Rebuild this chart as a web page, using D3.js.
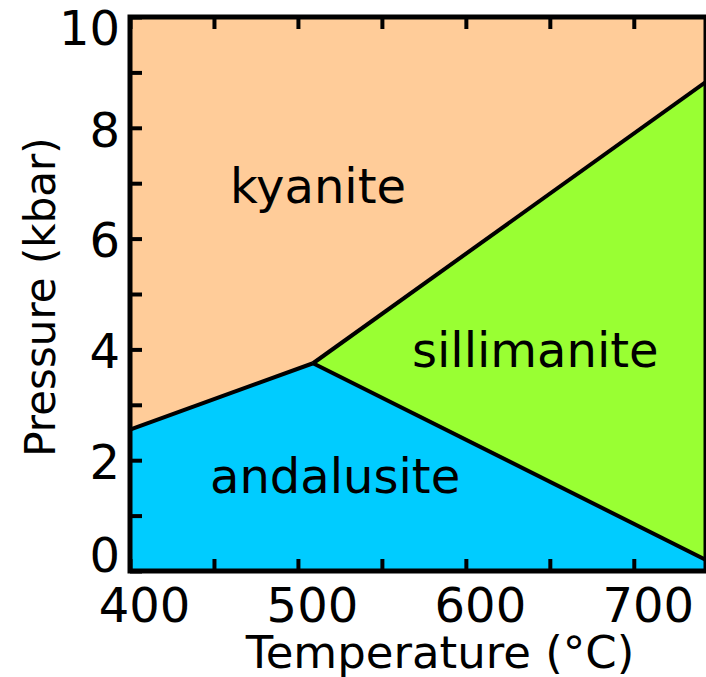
<!DOCTYPE html>
<html>
<head>
<meta charset="utf-8">
<script src="https://cdn.jsdelivr.net/npm/d3@7"></script>
<style>
 body { margin: 0; background: #fff; }
 text { font-family: "DejaVu Sans", sans-serif; }
</style>
</head>
<body>
<div id="chart"></div>
<script>
// phase diagram data (temperature in C, pressure in kbar)
var tempDomain = [400, 743];
var pressDomain = [0, 10];
var tempTicks = [400, 450, 500, 550, 600, 650, 700];
var tempLabels = [400, 500, 600, 700];
var pressTicks = [0, 1, 2, 3, 4, 5, 6, 7, 8, 9, 10];
var pressLabels = [0, 2, 4, 6, 8, 10];
var triplePoint = [509, 3.75];
var kyAndLine = [[400, 2.55], triplePoint];
var kySilLine = [triplePoint, [743, 8.83]];
var andSilLine = [triplePoint, [743, 0.2]];
var phaseNames = ["kyanite", "sillimanite", "andalusite"];
var phaseColors = ["#ffcc99", "#99ff33", "#00ccff"];

var svgWidth = 706;
var svgHeight = 677;
var margin = { top: 17, right: 0, bottom: 106, left: 130 };
var width = svgWidth - margin.left - margin.right;
var height = svgHeight - margin.top - margin.bottom;

var svg = d3.select("#chart")
 .append("svg")
   .attr("width", svgWidth)
   .attr("height", svgHeight)
 .append("g")
   .attr("transform", "translate(" + margin.left + "," + margin.top + ")");

var x = d3.scaleLinear().domain(tempDomain).range([0, width]);
var y = d3.scaleLinear().domain(pressDomain).range([height, 0]);

var t0 = tempDomain[0], t1 = tempDomain[1];
var p0 = pressDomain[0], p1 = pressDomain[1];

// polygons built from the boundary lines
var regions = [
 [[t0, p1], [t1, p1], kySilLine[1], triplePoint, kyAndLine[0]],
 [triplePoint, kySilLine[1], andSilLine[1]],
 [[t0, p0], kyAndLine[0], triplePoint, andSilLine[1], [t1, p0]]
];

var line = d3.line()
 .x(function (d) { return x(d[0]); })
 .y(function (d) { return y(d[1]); });

svg.selectAll(".region")
 .data(regions)
 .enter()
 .append("path")
   .attr("class", "region")
   .attr("d", function (d) { return line(d) + "Z"; })
   .style("fill", function (d, i) { return phaseColors[i]; })
   .style("stroke", function (d, i) { return phaseColors[i]; })
   .style("stroke-width", 1);

svg.selectAll(".boundary")
 .data([kyAndLine, kySilLine, andSilLine])
 .enter()
 .append("path")
   .attr("class", "boundary")
   .attr("d", line)
   .style("fill", "none")
   .style("stroke", "#000")
   .style("stroke-width", 4);

// phase labels
var labelPos = [[230, 203], [412, 367], [210, 493]];
svg.selectAll(".phase")
 .data(phaseNames)
 .enter()
 .append("text")
   .attr("class", "phase")
   .attr("x", function (d, i) { return labelPos[i][0] - margin.left; })
   .attr("y", function (d, i) { return labelPos[i][1] - margin.top; })
   .style("font-size", "48px")
   .style("fill", "#000")
   .text(function (d) { return d; });

// axes with inward ticks
var xAxis = svg.append("g")
 .attr("transform", "translate(0," + height + ")")
 .call(d3.axisBottom(x).tickValues(tempTicks).tickSizeInner(-12).tickSizeOuter(0)
   .tickFormat(function (d) { return tempLabels.indexOf(d) >= 0 ? d : ""; }));
xAxis.selectAll("text")
 .attr("y", 17)
 .attr("dx", 14)
 .style("font-size", "48px")
 .style("fill", "#000");

var xTop = svg.append("g")
 .call(d3.axisTop(x).tickValues(tempTicks).tickSizeInner(-12).tickSizeOuter(0).tickFormat(""));

var yAxis = svg.append("g")
 .call(d3.axisLeft(y).tickValues(pressTicks).tickSizeInner(-12).tickSizeOuter(0)
   .tickFormat(function (d) { return pressLabels.indexOf(d) >= 0 ? d : ""; }));
yAxis.selectAll("text")
 .attr("x", -10)
 .attr("dy", function (d) { return d === 10 ? "0.57em" : (d === 0 ? "0.02em" : "0.38em"); })
 .style("font-size", "48px")
 .style("fill", "#000");

[xAxis, xTop, yAxis].forEach(function (g) {
 g.select(".domain").remove();
 g.selectAll("line").style("stroke", "#000").style("stroke-width", 4);
});

// frame
svg.append("rect")
 .attr("width", width)
 .attr("height", height)
 .style("fill", "none")
 .style("stroke", "#000")
 .style("stroke-width", 5);

// axis titles
svg.append("text")
 .attr("x", 440 - margin.left)
 .attr("y", 668 - margin.top)
 .attr("text-anchor", "middle")
 .style("font-size", "45px")
 .text("Temperature (°C)");

svg.append("text")
 .attr("transform", "rotate(-90)")
 .attr("x", -(297 - margin.top))
 .attr("y", 40 - margin.left)
 .attr("dy", "0.35em")
 .attr("text-anchor", "middle")
 .style("font-size", "42px")
 .text("Pressure (kbar)");
</script>
</body>
</html>
